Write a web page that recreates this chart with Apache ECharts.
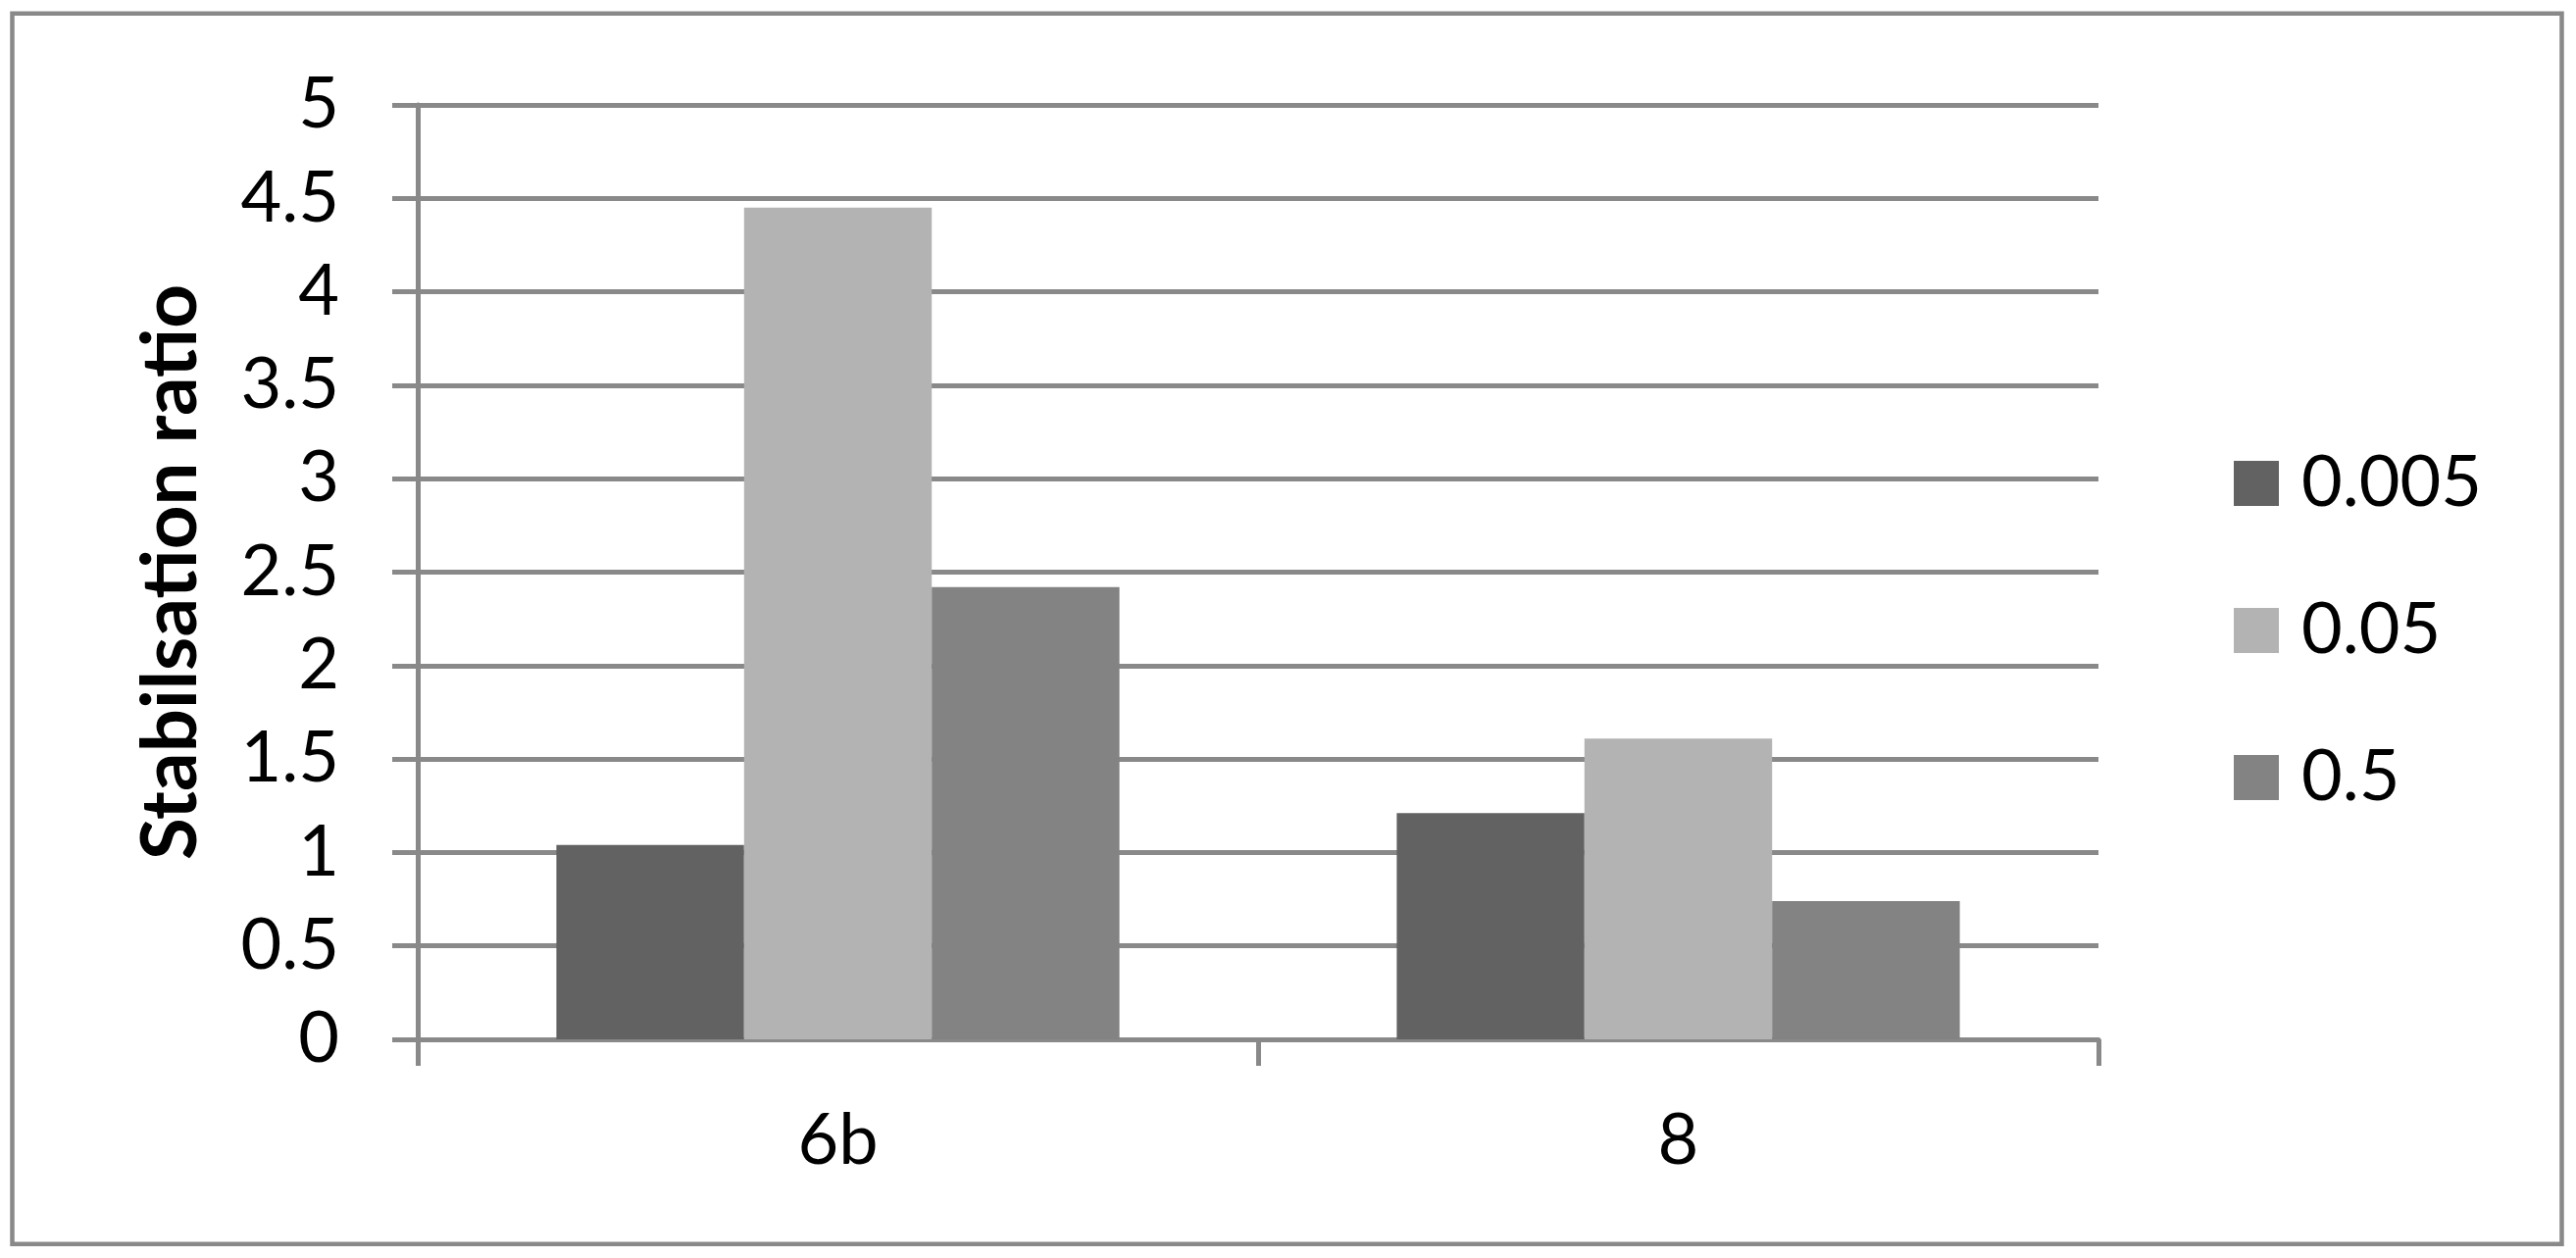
<!DOCTYPE html>
<html>
<head>
<meta charset="utf-8">
<script src="https://cdn.jsdelivr.net/npm/echarts@6/dist/echarts.min.js"></script>
<style>
html,body{margin:0;padding:0;background:#fff;}
#chart{width:2627px;height:1283px;}
</style>
</head>
<body>
<div id="chart"></div>
<script>
const categories = ['6b', '8'];
const seriesNames = ['0.005', '0.05', '0.5'];
const values0005 = [1.04, 1.21];
const values005 = [4.45, 1.61];
const values05 = [2.42, 0.74];
const seriesColors = ['#626262', '#b3b3b3', '#838383'];
const yTitle = 'Stabilsation ratio';

const FONT = 'Lato';
const GRID = '#898989';
const chart = echarts.init(document.getElementById('chart'), null, {renderer: 'canvas'});
const seriesData = [values0005, values005, values05];

chart.setOption({
  animation: false,
  backgroundColor: '#ffffff',
  textStyle: {fontFamily: FONT},
  graphic: [{
    type: 'rect',
    shape: {x: 12.5, y: 13.8, width: 2600, height: 1255},
    style: {fill: 'none', stroke: GRID, lineWidth: 4.5},
    silent: true,
    z: -1
  }],
  grid: {left: 426, right: 487, top: 107, bottom: 223, containLabel: false},
  legend: {
    orient: 'vertical',
    left: 2273,
    top: 452,
    itemWidth: 46,
    itemHeight: 46,
    itemGap: 78,
    icon: 'rect',
    data: seriesNames,
    textStyle: {fontFamily: FONT, fontSize: 72, color: '#000', lineHeight: 46, padding: [0, 0, 0, 18]}
  },
  xAxis: {
    type: 'category',
    data: categories,
    axisLine: {lineStyle: {color: GRID, width: 5}},
    axisTick: {show: true, length: 27, lineStyle: {color: GRID, width: 5}},
    axisLabel: {fontFamily: FONT, fontSize: 72, color: '#000', margin: 68},
    splitLine: {show: false}
  },
  yAxis: {
    type: 'value',
    min: 0, max: 5, interval: 0.5,
    name: yTitle,
    nameLocation: 'middle',
    nameRotate: 90,
    nameGap: 212,
    nameTextStyle: {fontFamily: FONT, fontSize: 78, fontWeight: 'bold', color: '#000'},
    axisLine: {show: true, lineStyle: {color: GRID, width: 5}},
    axisTick: {show: true, length: 26, lineStyle: {color: GRID, width: 5}},
    axisLabel: {fontFamily: FONT, fontSize: 72, color: '#000', margin: 80},
    splitLine: {show: true, lineStyle: {color: GRID, width: 5}}
  },
  series: seriesNames.map((n, i) => ({
    name: n,
    type: 'bar',
    data: seriesData[i],
    barGap: '0%',
    barCategoryGap: '33%',
    itemStyle: {color: seriesColors[i]},
    z: 3
  }))
});
</script>
</body>
</html>
